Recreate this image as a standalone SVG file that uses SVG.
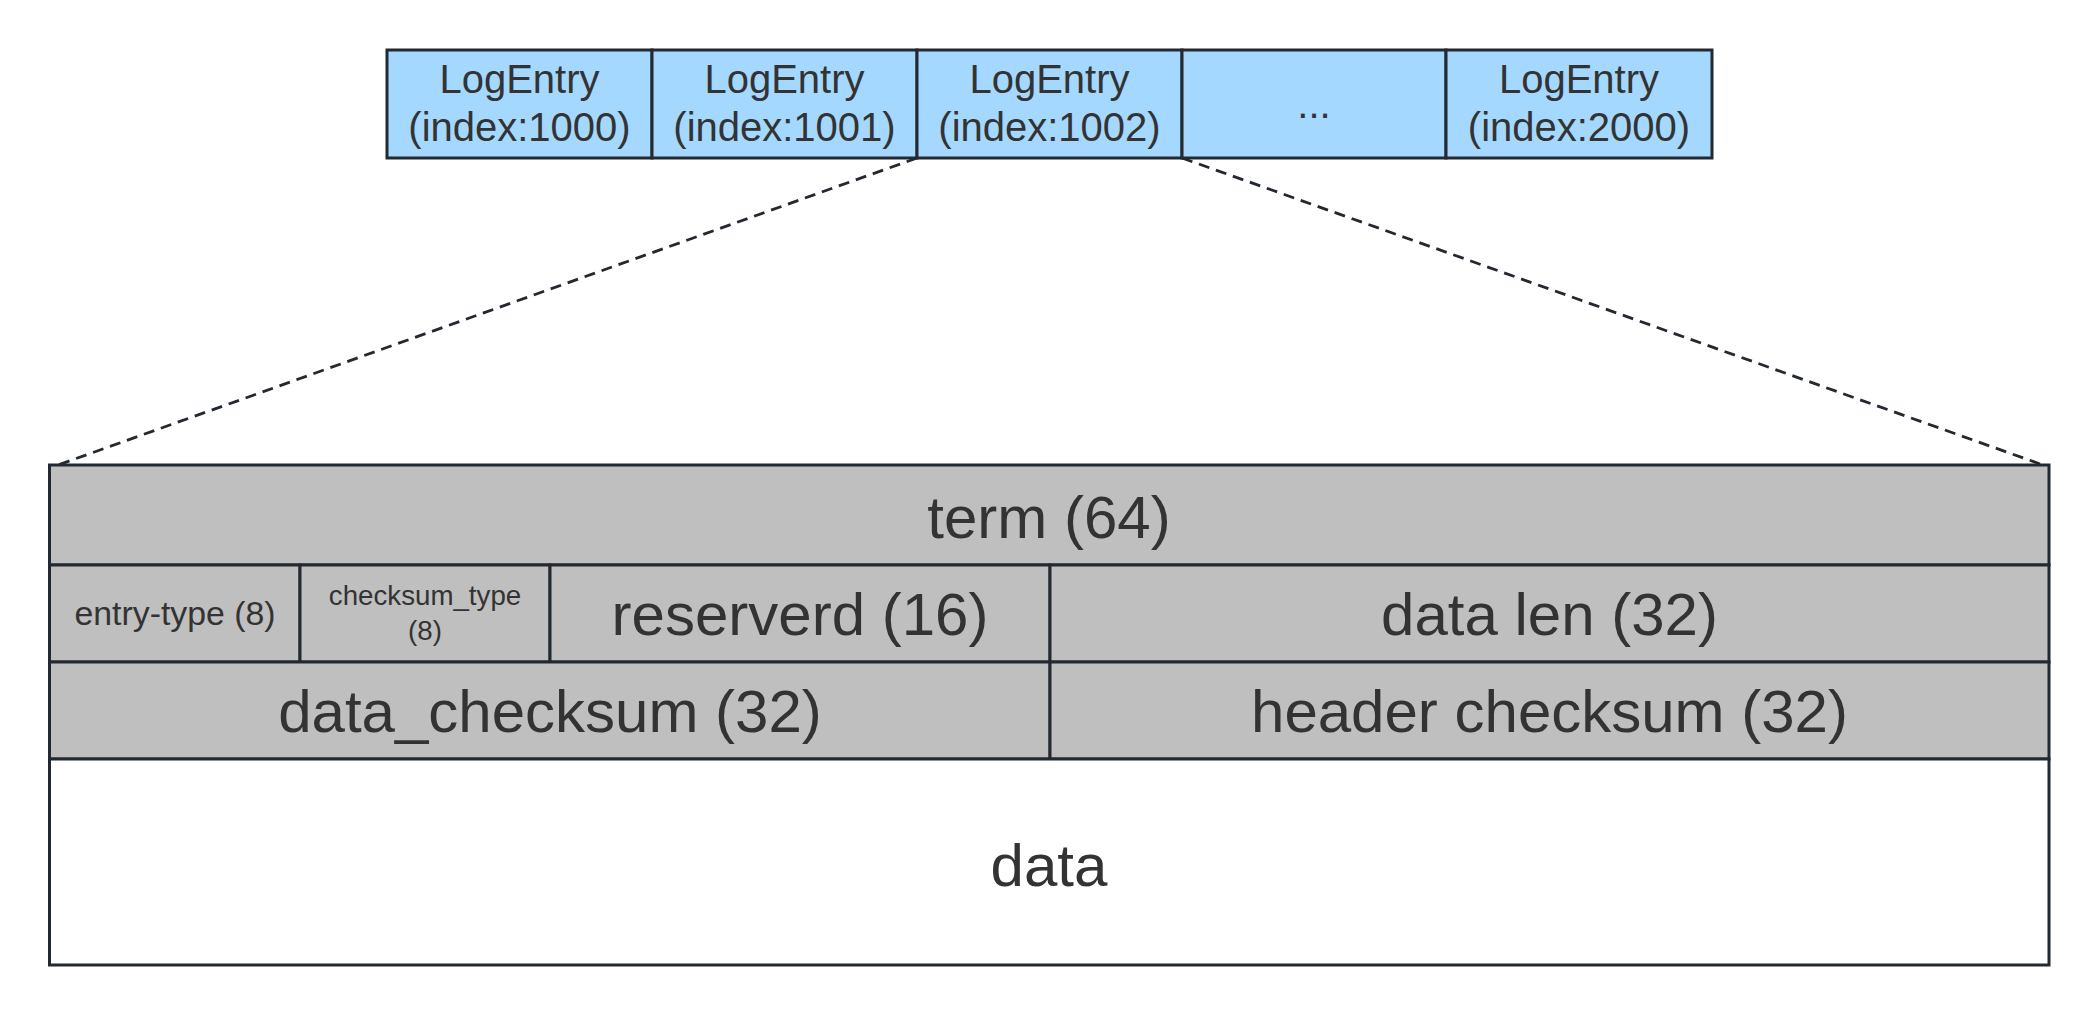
<svg xmlns="http://www.w3.org/2000/svg" width="2100" height="1015" viewBox="0 0 2100 1015">
  <style>
    .blue { fill: #a5d8ff; stroke: #232930; stroke-width: 3; }
    .gray { fill: #bfbfbf; stroke: #232930; stroke-width: 3; }
    .white { fill: #ffffff; stroke: #232930; stroke-width: 3; }
    text { font-family: "Liberation Sans", Arial, sans-serif; fill: #333333; text-anchor: middle; }
    .t40 { font-size: 40px; }
    .t59 { font-size: 60px; }
    .t34 { font-size: 33.8px; }
    .t28 { font-size: 27.7px; }
    .dash { fill: none; stroke: #232930; stroke-width: 2.8; stroke-dasharray: 11 7; }
  </style>
  <rect width="2100" height="1015" fill="#ffffff"/>

  <g id="connectors">
    <line class="dash" x1="917" y1="158" x2="58" y2="465"/>
    <line class="dash" x1="1182" y1="158" x2="2043" y2="465"/>
  </g>

  <g id="entry1000">
    <rect class="blue" x="387" y="50" width="265" height="108"/>
    <text class="t40" x="519.5" y="93">LogEntry</text>
    <text class="t40" x="519.5" y="141">(index:1000)</text>
  </g>
  <g id="entry1001">
    <rect class="blue" x="652" y="50" width="265" height="108"/>
    <text class="t40" x="784.5" y="93">LogEntry</text>
    <text class="t40" x="784.5" y="141">(index:1001)</text>
  </g>
  <g id="entry1002">
    <rect class="blue" x="917" y="50" width="265" height="108"/>
    <text class="t40" x="1049.5" y="93">LogEntry</text>
    <text class="t40" x="1049.5" y="141">(index:1002)</text>
  </g>
  <g id="entryEllipsis">
    <rect class="blue" x="1182" y="50" width="264" height="108"/>
    <text class="t40" x="1314" y="118">...</text>
  </g>
  <g id="entry2000">
    <rect class="blue" x="1446" y="50" width="266" height="108"/>
    <text class="t40" x="1579" y="93">LogEntry</text>
    <text class="t40" x="1579" y="141">(index:2000)</text>
  </g>

  <g id="term">
    <rect class="gray" x="49.5" y="465" width="1999.5" height="100"/>
    <text class="t59" x="1049" y="538">term (64)</text>
  </g>
  <g id="entryType">
    <rect class="gray" x="49.5" y="565" width="250.5" height="97"/>
    <text class="t34" x="175" y="625">entry-type (8)</text>
  </g>
  <g id="checksumType">
    <rect class="gray" x="300" y="565" width="250" height="97"/>
    <text class="t28" x="425" y="605">checksum_type</text>
    <text class="t28" x="425" y="640">(8)</text>
  </g>
  <g id="reserved">
    <rect class="gray" x="550" y="565" width="500" height="97"/>
    <text class="t59" x="800" y="635">reserverd (16)</text>
  </g>
  <g id="dataLen">
    <rect class="gray" x="1050" y="565" width="999" height="97"/>
    <text class="t59" x="1549.5" y="635">data len (32)</text>
  </g>
  <g id="dataChecksum">
    <rect class="gray" x="49.5" y="662" width="1000.5" height="97"/>
    <text class="t59" x="550" y="732">data_checksum (32)</text>
  </g>
  <g id="headerChecksum">
    <rect class="gray" x="1050" y="662" width="999" height="97"/>
    <text class="t59" x="1549.5" y="732">header checksum (32)</text>
  </g>
  <g id="data">
    <rect class="white" x="49.5" y="759" width="1999.5" height="206"/>
    <text class="t59" x="1049" y="886">data</text>
  </g>
</svg>
